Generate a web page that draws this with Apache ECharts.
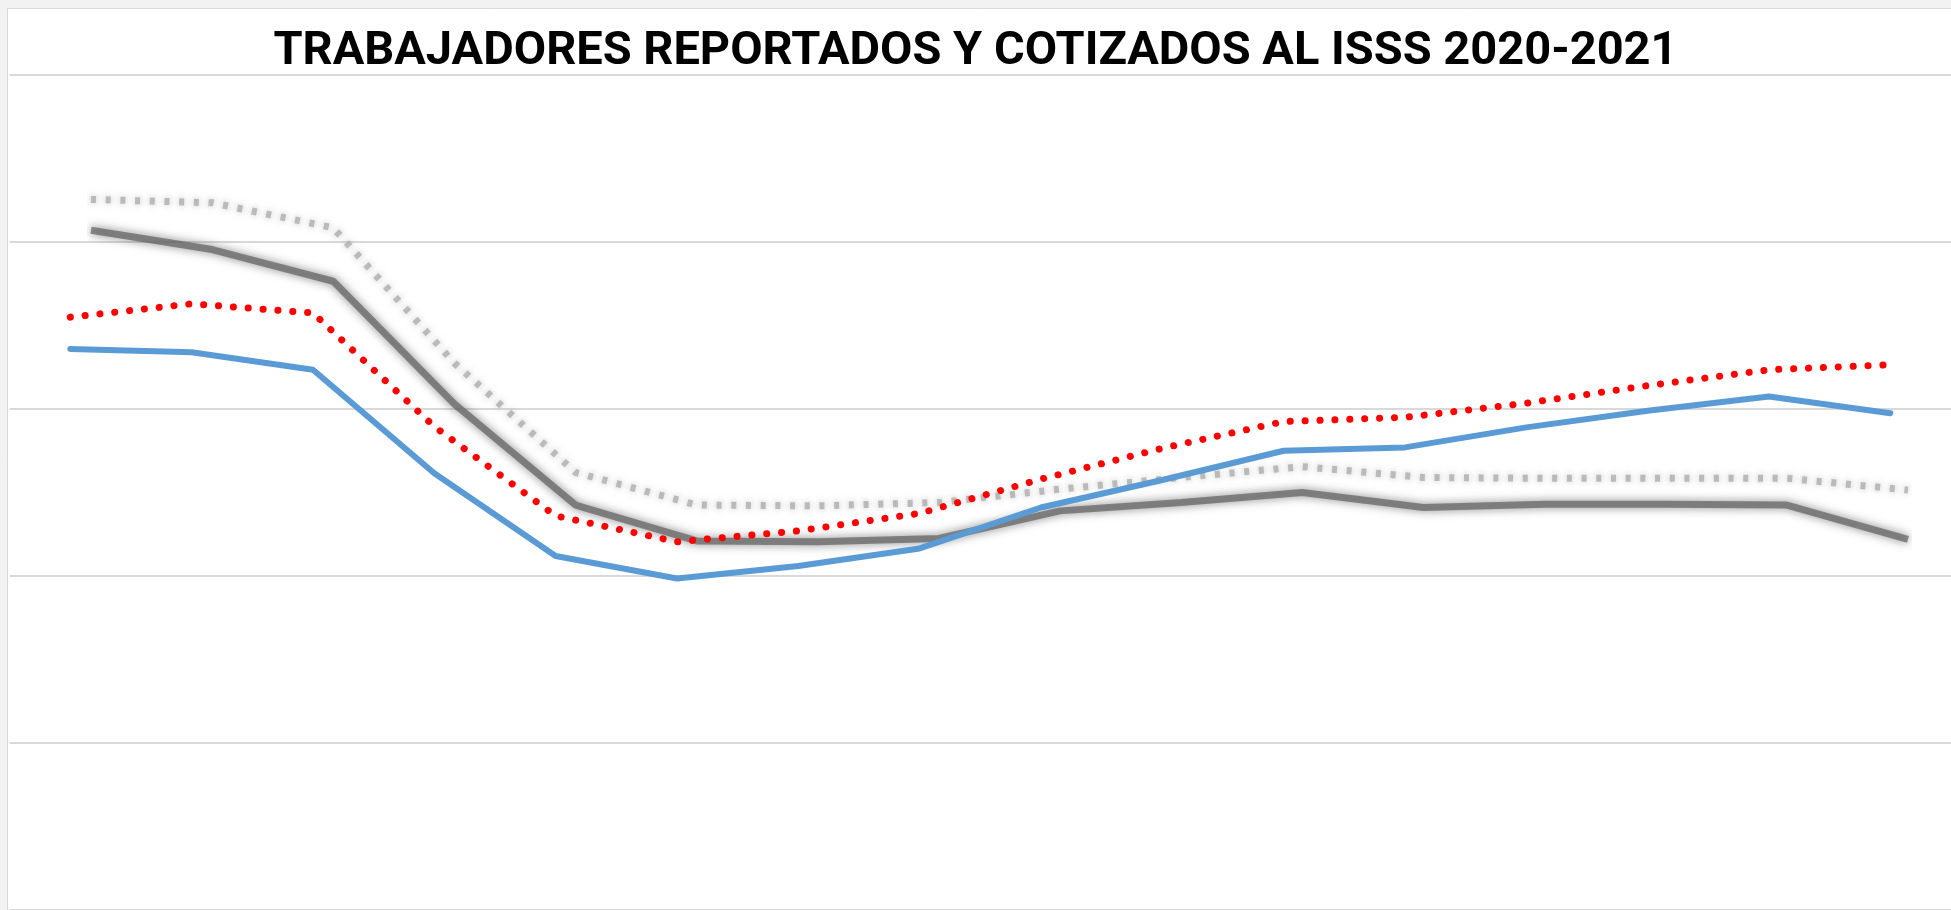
<!DOCTYPE html>
<html>
<head>
<meta charset="utf-8">
<title>Trabajadores reportados y cotizados al ISSS</title>
<script src="https://cdn.jsdelivr.net/npm/echarts@6/dist/echarts.min.js"></script>
<style>
  html, body { margin: 0; padding: 0; background: #f2f2f2; }
  #main { width: 1951px; height: 910px; }
</style>
</head>
<body>
<div id="main"></div>
<script>
// meses (las etiquetas del eje quedan fuera de la imagen)
const meses = ['ene-20', 'feb-20', 'mar-20', 'abr-20', 'may-20', 'jun-20', 'jul-20', 'ago-20',
  'sep-20', 'oct-20', 'nov-20', 'dic-20', 'ene-21', 'feb-21', 'mar-21', 'abr-21']

// miles de trabajadores
const cotizados = [867.2, 866.8, 864.7, 852.3, 842.4, 839.7, 841.2, 843.3,
  848.2, 851.5, 855.0, 855.4, 857.8, 859.8, 861.5, 859.5]
const reportados = [871.0, 872.6, 871.5, 857.9, 847.2, 844.1, 845.4, 847.5,
  851.6, 855.3, 858.5, 859.0, 860.7, 862.8, 864.7, 865.3]
// lineas grises difuminadas de fondo
const cotizadosSombra = [881.4, 879.1, 875.3, 860.6, 848.5, 844.2, 844.1, 844.5,
  847.8, 848.8, 850.0, 848.2, 848.6, 848.6, 848.5, 844.4]
const reportadosSombra = [885.1, 884.7, 881.7, 865.5, 852.4, 848.5, 848.4, 848.8,
  850.4, 851.8, 853.1, 851.8, 851.7, 851.7, 851.7, 850.3]

const ejeMin = 800
const ejeMax = 900
const ejeIntervalo = 20

const chartDom = document.getElementById('main')
const myChart = echarts.init(chartDom)

const ejeOculto = {
  axisLine: { show: false },
  axisTick: { show: false },
  axisLabel: { show: false },
}

const option = {
  backgroundColor: '#f2f2f2',
  animation: false,
  title: {
    text: 'TRABAJADORES REPORTADOS Y COTIZADOS AL ISSS 2020-2021',
    left: 'center',
    top: 24,
    textStyle: {
      fontFamily: 'Roboto, "Open Sans", sans-serif',
      fontWeight: 'bold',
      fontSize: 47,
      color: '#000000',
    },
  },
  graphic: [
    {
      // panel blanco del grafico
      type: 'rect',
      z: -10,
      shape: { x: 7.5, y: 8.5, width: 1960, height: 920 },
      style: { fill: '#ffffff', stroke: '#d9d9d9', lineWidth: 1 },
    },
  ],
  grid: [
    { left: 9.6, right: -24.4, top: 75, height: 836.6 },
    // las lineas grises estan algo desplazadas a la derecha
    { left: 91, right: 43, top: 75, height: 836.6 },
  ],
  xAxis: [
    { type: 'category', data: meses, boundaryGap: true, gridIndex: 0, ...ejeOculto },
    { type: 'category', data: meses, boundaryGap: false, gridIndex: 1, ...ejeOculto },
  ],
  yAxis: [
    {
      type: 'value',
      gridIndex: 0,
      min: ejeMin,
      max: ejeMax,
      interval: ejeIntervalo,
      ...ejeOculto,
      splitLine: {
        lineStyle: { color: '#d9d9d9', width: 2 },
      },
    },
    {
      type: 'value',
      gridIndex: 1,
      min: ejeMin,
      max: ejeMax,
      interval: ejeIntervalo,
      ...ejeOculto,
      splitLine: { show: false },
    },
  ],
  series: [
    {
      name: 'Reportados (sombra)',
      type: 'line',
      xAxisIndex: 1,
      yAxisIndex: 1,
      data: reportadosSombra,
      symbol: 'none',
      lineStyle: {
        color: 'rgba(170,170,170,0.75)',
        width: 7,
        type: [5, 9.7],
        shadowBlur: 7,
        shadowColor: 'rgba(160,160,160,0.95)',
      },
    },
    {
      name: 'Cotizados (sombra)',
      type: 'line',
      xAxisIndex: 1,
      yAxisIndex: 1,
      data: cotizadosSombra,
      symbol: 'none',
      lineStyle: {
        color: 'rgba(95,95,95,0.7)',
        width: 7,
        shadowBlur: 10,
        shadowColor: 'rgba(85,85,85,1)',
      },
    },
    {
      name: 'Cotizados',
      type: 'line',
      data: cotizados,
      symbol: 'none',
      lineStyle: {
        color: '#5b9bd5',
        width: 6,
        cap: 'round',
      },
    },
    {
      name: 'Reportados',
      type: 'line',
      data: reportados,
      symbol: 'none',
      lineStyle: {
        color: '#ff0000',
        width: 7,
        type: [0.1, 14.8],
        cap: 'round',
      },
    },
  ],
}

myChart.setOption(option)
</script>
</body>
</html>
